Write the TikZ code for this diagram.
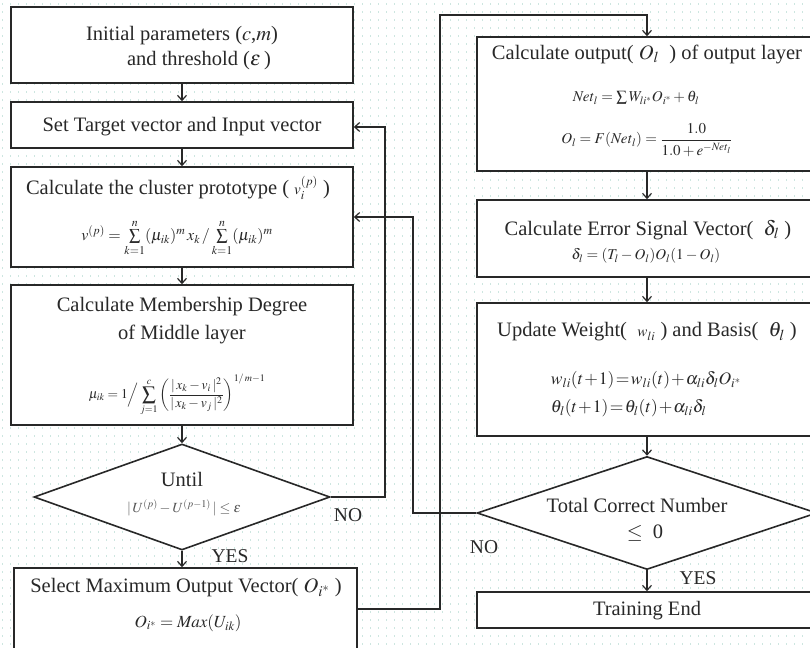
\documentclass[tikz,border=0pt]{standalone}
\usepackage{amsmath}
\usepackage{mathptmx}
\usepackage[no-math]{fontspec}
\setmainfont{Liberation Serif}
\usetikzlibrary{arrows.meta,shapes.geometric}
\definecolor{dotc}{RGB}{205,230,224}
\definecolor{ink}{RGB}{40,40,40}
\tikzset{
  box/.style={draw=ink, line width=1.6pt, fill=white, rectangle, inner sep=0pt},
  dia/.style={draw=ink, line width=1.6pt, fill=white, diamond, inner sep=0pt},
  title/.style={font=\fontsize{20.5}{23}\selectfont, text=ink, inner sep=0pt},
  formula/.style={font=\fontsize{15}{17}\selectfont, text=ink, inner sep=0pt},
  bigf/.style={font=\fontsize{17.5}{28}\selectfont, text=ink, inner sep=0pt},
  lab/.style={font=\fontsize{19.5}{21}\selectfont, text=ink, inner sep=0pt},
  conn/.style={draw=ink, line width=1.3pt},
  arr/.style={conn, -{Straight Barb[length=5pt,width=9pt,line width=1.2pt]}},
}
\begin{document}
\begin{tikzpicture}[x=1pt,y=-1pt]
\useasboundingbox (0,0) rectangle (810,647);
\fill[white] (0,0) rectangle (810,647);
\foreach \r in {0,...,81} {
  \draw[dotc, line width=1.2pt, dash pattern=on 1.2pt off 6.8pt] (2,{4+8*\r}) -- (810,{4+8*\r});
}
% left column boxes
\node[box, minimum width=342pt, minimum height=76pt] (b1) at (182,45) {};
\node[box, minimum width=342pt, minimum height=46pt] (b2) at (182,125) {};
\node[box, minimum width=342pt, minimum height=100pt] (b3) at (182,217) {};
\node[box, minimum width=342pt, minimum height=140pt] (b4) at (182,355) {};
\node[dia, minimum width=296pt, minimum height=106pt] (d1) at (182,497) {};
\node[box, minimum width=343pt, minimum height=100pt] (b5) at (185.5,618) {};
% right column boxes
\node[box, minimum width=340pt, minimum height=134pt] (r1) at (647,104) {};
\node[box, minimum width=340pt, minimum height=77pt] (r2) at (647,238.5) {};
\node[box, minimum width=340pt, minimum height=133pt] (r3) at (647,369.5) {};
\node[dia, minimum width=340pt, minimum height=113pt] (d2) at (647,513) {};
\node[box, minimum width=340pt, minimum height=36pt] (r4) at (647,610) {};
% texts left
\node[title] (t1a) at (182,36) {Initial parameters ($c$,$m$)};
\node[title] (t1b) at (199,61) {and threshold ($\varepsilon$\,)};
\node[title] (t2) at (182,127) {Set Target vector and Input vector};
\node[title] (t3) at (178,188) {Calculate the cluster prototype ( $\scriptstyle v_i^{(p)}$ )};
\node[formula, font=\fontsize{16}{18}\selectfont] (f3) at (177,238) {$v^{(p)}=\sum\limits_{k=1}^{n}(\mu_{ik})^m\,x_k\,/\sum\limits_{k=1}^{n}(\mu_{ik})^m$};
\node[title] (t4a) at (182,307) {Calculate Membership Degree};
\node[title] (t4b) at (182,334) {of Middle layer};
\node[formula, font=\fontsize{13.5}{15}\selectfont] (f4) at (177,395) {$\displaystyle \mu_{ik}=1\Big/\sum_{j=1}^{c}\left(\frac{|\,x_k-v_i\,|^2}{|\,x_k-v_j\,|^2}\right)^{1/\,m-1}$};
\node[title] (td1) at (182,479) {Until};
\node[formula, font=\fontsize{14}{16}\selectfont, text=ink!80] (fd1) at (184,508) {$|\,U^{(p)}-U^{(p-1)}\,|\le\varepsilon$};
\node[title] (t5) at (186,588) {Select Maximum Output Vector( $O_{i^*}$ )};
\node[formula, font=\fontsize{17}{19}\selectfont] (f5) at (188,623) {$O_{i^*}=\mathit{Max}(U_{ik})$};
% texts right
\node[title] (r1t) at (647,54) {Calculate output( $O_l$\ \ ) of output layer};
\node[formula] (r1f1) at (636,98) {$\mathit{Net}_l=\sum W_{li^*}O_{i^*}+\theta_l$};
\node[formula] (r1f2) at (647,140) {$O_l=F(\mathit{Net}_l)=\dfrac{1.0\rule[-3pt]{0pt}{10pt}}{\rule{0pt}{13pt}1.0+e^{-\mathit{Net}_l}}$};
\node[title] (r2t) at (648,230) {Calculate Error Signal Vector(\ \ $\delta_l$ )};
\node[formula] (r2f) at (646,256) {$\delta_l=(T_l-O_l)O_l(1-O_l)$};
\node[title] (r3t) at (647,332) {Update Weight( \ $\scriptstyle w_{li}$ ) and Basis(\ \ $\theta_l$ )};
\node[bigf, align=left] (r3f) at (646,394) {\thickmuskip=1.5mu\medmuskip=1mu$w_{li}(t+1)=w_{li}(t)+\alpha_{li}\delta_l O_{i^*}$\\\thickmuskip=1.5mu\medmuskip=1mu$\theta_l(t+1)=\theta_l(t)+\alpha_{li}\delta_l$};
\node[title] (td2a) at (637,505) {Total Correct Number};
\node[title] (td2b) at (645,533) {$\le$\ \ 0};
\node[title] (r4t) at (647,611) {Training End};
% labels
\node[lab] (no1) at (348,515) {NO};
\node[lab] (yes1) at (230,556) {YES};
\node[lab] (no2) at (484,547) {NO};
\node[lab] (yes2) at (698,578) {YES};
% connectors left
\draw[arr] (b1.south) -- (b2.north);
\draw[arr] (b2.south) -- (b3.north);
\draw[arr] (b3.south) -- (b4.north);
\draw[arr] (b4.south) -- (d1.north);
\draw[arr] (d1.south) -- (b5.north -| d1.south);
\coordinate (c1a) at (385,497);
\coordinate (c1b) at (385,127);
\draw[arr] (d1.east) -- (c1a) -- (c1b) -- (c1b -| b2.east);
\coordinate (c2a) at (413,513);
\coordinate (c2b) at (413,217);
\draw[arr] (d2.west) -- (c2a) -- (c2b) -- (c2b -| b3.east);
\coordinate (c3a) at (440,609);
\coordinate (c3b) at (440,15);
\coordinate (c3c) at (647,15);
\draw[arr] (c3a -| b5.east) -- (c3a) -- (c3b) -- (c3c) -- (r1.north);
% connectors right
\draw[arr] (r1.south) -- (r2.north);
\draw[arr] (r2.south) -- (r3.north);
\draw[arr] (r3.south) -- (d2.north);
\draw[arr] (d2.south) -- (r4.north);
\end{tikzpicture}
\end{document}
